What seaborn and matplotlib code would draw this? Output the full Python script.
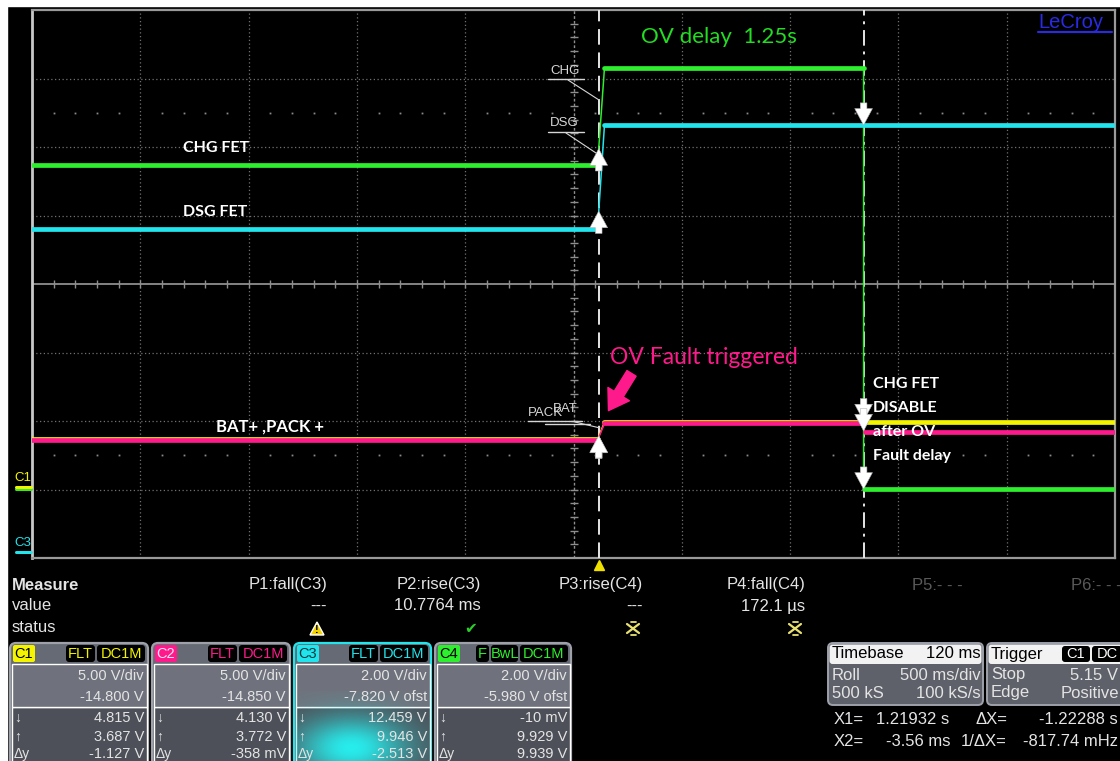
import numpy as np
import pandas as pd
import matplotlib
matplotlib.use("Agg")
import matplotlib.pyplot as plt
from matplotlib.patches import FancyBboxPatch, Rectangle, Polygon, FancyArrowPatch
from matplotlib.transforms import blended_transform_factory
import seaborn as sns

sns.set_theme(style="white")
plt.rcParams["font.family"] = ["Liberation Sans", "DejaVu Sans"]
UI_FONT = ["Liberation Sans", "DejaVu Sans"]
NOTE_FONT = ["Lato", "DejaVu Sans"]

# ---------------- acquisition settings ----------------
TIME_PER_DIV = 0.5          # s/div (roll mode)
N_XDIV = 10
N_YDIV = 8
TRIG_DELAY = 0.120          # s
CURSOR_X1 = 1.21932         # s
CURSOR_X2 = -0.00356        # s

CHANNELS = ["C1", "C2", "C3", "C4"]
CH_COLORS = ["#f4f400", "#ff1a8c", "#22e4ec", "#2def2d"]
VOLTS_PER_DIV = [5.00, 5.00, 2.00, 2.00]
OFFSETS = [-14.800, -14.850, -7.820, -5.980]
AT_X1 = [4.815, 4.130, 12.459, -0.010]     # channel value at cursor X1
AT_X2 = [3.687, 3.772, 9.946, 9.929]       # channel value at cursor X2
DELTA_Y = ["-1.127 V", "-358 mV", "-2.513 V", "9.939 V"]

# ---------------- waveform breakpoints (s, V) ----------------
C1_T = [-2.62, -0.009, 0.023, 2.38]
C1_V = [3.47, 3.47, 4.71, 4.71]
C2_T = [-2.62, -0.009, 0.023, 1.2193, 1.2240, 2.38]
C2_V = [3.44, 3.44, 4.67, 4.67, 4.05, 4.05]
C3_T = [-2.62, -0.009, 0.023, 2.38]
C3_V = [9.42, 9.42, 12.46, 12.46]
C4_T = [-2.62, -0.009, 0.023, 1.2193, 1.2194, 2.38]
C4_V = [9.45, 9.45, 12.29, 12.29, 0.0, 0.0]
TRACES = {"C1": (C1_T, C1_V), "C2": (C2_T, C2_V), "C3": (C3_T, C3_V), "C4": (C4_T, C4_V)}

# ---------------- measurement panel ----------------
MEAS_NAMES = ["P1:fall(C3)", "P2:rise(C3)", "P3:rise(C4)", "P4:fall(C4)"]
MEAS_VALUES = ["---", "10.7764 ms", "---", "172.1 µs"]
MEAS_STATUS = ["warn", "ok", "nodata", "nodata"]
CH_TAGS = [["FLT", "DC1M"], ["FLT", "DC1M"], ["FLT", "DC1M"], ["F", "BwL", "DC1M"]]
TAG_WIDTH = {"F": 13, "BwL": 27, "FLT": 29, "DC1M": 48}


def to_div(v, ch):
    i = CHANNELS.index(ch)
    return (v + OFFSETS[i]) / VOLTS_PER_DIV[i]


rows = []
for ch in CHANNELS:
    t, v = TRACES[ch]
    for i in range(len(t) - 1):
        kind = "flat" if v[i] == v[i + 1] else "edge"
        for j in (i, i + 1):
            rows.append(dict(ch=ch, seg=f"{ch}-{i}", kind=kind, t=t[j], div=to_div(v[j], ch)))
df = pd.DataFrame(rows)

W, H = 1120, 761
PL, PT, PR, PB = 32, 10, 1115, 558

fig = plt.figure(figsize=(W / 100, H / 100), dpi=100, facecolor="black")
ax = fig.add_axes([PL / W, 1 - PB / H, (PR - PL) / W, (PB - PT) / H])
ax.set_facecolor("black")

t_center = -TRIG_DELAY
t0 = t_center - N_XDIV / 2 * TIME_PER_DIV
t1 = t_center + N_XDIV / 2 * TIME_PER_DIV
ax.set_xlim(t0, t1)
ax.set_ylim(-N_YDIV / 2, N_YDIV / 2)

# graticule
grid_kw = dict(color="#707070", lw=0.9, ls=(0, (1, 2)), zorder=1)
for k in range(1, N_XDIV):
    x = t0 + k * TIME_PER_DIV
    if k == N_XDIV // 2:
        ax.axvline(x, color="#8e8e8e", lw=1.0, ls=(0, (2, 1.5)), zorder=1)
    else:
        ax.axvline(x, **grid_kw)
for j in range(-N_YDIV // 2 + 1, N_YDIV // 2):
    if j == 0:
        ax.axhline(0, color="#8e8e8e", lw=1.3, zorder=1)
    else:
        ax.axhline(j, **grid_kw)
sub_idx = np.arange(1, N_XDIV * 5)
minor_t = t0 + sub_idx * TIME_PER_DIV / 5
ax.plot(minor_t, np.zeros_like(minor_t), ls="none", marker="|", ms=6, mew=1.0, color="#8e8e8e", zorder=1)
minor_y = np.arange(-N_YDIV * 5 // 2 + 1, N_YDIV * 5 // 2) / 5
ax.plot(np.full_like(minor_y, t_center), minor_y, ls="none", marker="_", ms=6, mew=1.0, color="#8e8e8e", zorder=1)
dots_t = minor_t[sub_idx % 5 != 0]
for yy in (2.5, -2.5):
    ax.plot(dots_t, np.full_like(dots_t, yy), ls="none", marker="s", ms=1.3, mew=0, color="#8a8a8a", zorder=1)

for side, col, lw in (("left", "#c8c8c8", 2.0), ("top", "#9a9a9a", 1.6),
                      ("right", "#9a9a9a", 1.6), ("bottom", "#9a9a9a", 1.6)):
    ax.spines[side].set_color(col)
    ax.spines[side].set_linewidth(lw)
    ax.spines[side].set_visible(True)
ax.set_xticks([])
ax.set_yticks([])

# cursors
ax.axvline(CURSOR_X2, color="#e6e6e6", lw=1.4, ls=(0, (8, 4)), zorder=3)
ax.axvline(CURSOR_X1, color="#e6e6e6", lw=1.4, ls=(0, (8, 3, 1.5, 3)), zorder=3)

# traces
palette = dict(zip(CHANNELS, CH_COLORS))
for kind, lw in (("edge", 1.1), ("flat", 3.4)):
    sns.lineplot(data=df[df.kind == kind], x="t", y="div", hue="ch", units="seg",
                 estimator=None, palette=palette, hue_order=CHANNELS, lw=lw,
                 legend=False, sort=False, ax=ax, zorder=4)
ax.set_xlabel("")
ax.set_ylabel("")

# cursor arrows at each channel value
arrow_style = "simple,head_length=0.7,head_width=0.75,tail_width=0.28"
for ch, v2, v1 in zip(CHANNELS, AT_X2, AT_X1):
    for tc, v, d in ((CURSOR_X2, v2, 1), (CURSOR_X1, v1, -1)):
        ax.annotate("", xy=(tc, to_div(v, ch)), xytext=(0, -16 * d), textcoords="offset points",
                    arrowprops=dict(arrowstyle=arrow_style, fc="white", ec="#b0b0b0", lw=0.4,
                                    mutation_scale=17, shrinkA=0, shrinkB=0), zorder=6)

# trigger position marker
ax.plot([0.0], [-N_YDIV / 2 - 0.1], marker="^", color="#f0e000", ms=7, clip_on=False, zorder=6)

# channel ground markers on the left edge
btr = blended_transform_factory(ax.transAxes, ax.transData)
fx = lambda px: (px - PL) / (PR - PL)
for ch, col in (("C4", CH_COLORS[3]), ("C1", CH_COLORS[0]), ("C3", CH_COLORS[2])):
    z = to_div(0.0, ch)
    ax.plot([fx(16), fx(31)], [z, z], color=col, lw=2.2, transform=btr, clip_on=False, zorder=6)
    if ch != "C4":
        ax.text(fx(23), z + 0.04, ch, transform=btr, color=col, fontsize=9.5, ha="center", va="bottom",
                clip_on=False)

# ---------------- overlay in pixel coordinates ----------------
ov = fig.add_axes([0, 0, 1, 1], zorder=10)
ov.set_xlim(0, W)
ov.set_ylim(H, 0)
ov.axis("off")
ov.patch.set_alpha(0)


def txt(x, y, s, size=10, color="#e8e8e8", ha="left", va="center", weight="normal", family=None,
        zorder=6, **kw):
    ov.text(x, y, s, fontsize=size, color=color, ha=ha, va=va, fontweight=weight,
            family=family or UI_FONT, zorder=zorder, **kw)


def rbox(x0, y0, x1, y1, fc, ec="none", lw=0.0, r=4, z=2):
    ov.add_patch(FancyBboxPatch((x0 + r, y0 + r), (x1 - x0) - 2 * r, (y1 - y0) - 2 * r,
                                boxstyle=f"round,pad={r}", fc=fc, ec=ec, lw=lw, zorder=z))


# white frame strips
ov.add_patch(Rectangle((0, 0), W, 5.5, color="white", zorder=20))
ov.add_patch(Rectangle((0, 0), 7, H, color="white", zorder=20))

# annotations on the traces
txt(641, 37, "OV delay  1.25s", size=16, color="#22dd22", family=NOTE_FONT)
txt(183, 148, "CHG FET", size=11.5, color="white", weight="bold", family=NOTE_FONT)
txt(183, 212, "DSG FET", size=11.5, color="white", weight="bold", family=NOTE_FONT)
txt(216, 427, "BAT+ ,PACK +", size=12, color="white", weight="bold", family=NOTE_FONT)
txt(610, 358, "OV Fault triggered", size=16.5, color="#ff1a8c", family=NOTE_FONT)
for k, line in enumerate(["CHG FET", "DISABLE", "after OV", "Fault delay"]):
    txt(873, 384 + 24 * k, line, size=11.5, color="white", weight="bold", family=NOTE_FONT)
ov.add_patch(FancyArrowPatch((633, 371), (607, 413),
                             arrowstyle="simple,head_length=1.0,head_width=1.3,tail_width=0.55",
                             mutation_scale=14, color="#ff1a8c", zorder=5))
txt(1038, 22, "LeCroy", size=14.5, color="#2a2ae6")
ov.plot([1038, 1112], [32, 32], color="#2a2ae6", lw=1.5)

# trace labels with leader lines
lab_col = "#d6d6d6"
txt(550, 71, "CHG", size=9.5, color=lab_col)
ov.plot([548, 584], [79, 79], color=lab_col, lw=1.0)
ov.plot([568, 599], [80, 100], color=lab_col, lw=0.8)
txt(550, 123, "DSG", size=9.5, color=lab_col)
ov.plot([548, 584], [132, 132], color=lab_col, lw=1.0)
ov.plot([566, 596], [133, 153], color=lab_col, lw=0.8)
txt(528, 413, "PACK", size=9.5, color=lab_col)
txt(553, 409, "BAT", size=9.5, color=lab_col)
ov.plot([528, 582], [421, 421], color=lab_col, lw=1.0)
ov.plot([545, 590], [424, 424], color=lab_col, lw=1.0)
ov.plot([575, 600], [422, 428], color=lab_col, lw=0.8)

# ---------------- measurement table ----------------
PANEL_TXT = "#e4e4e4"
MS = 12
txt(12, 585, "Measure", size=MS, weight="bold", color=PANEL_TXT)
txt(12, 606, "value", size=MS, color=PANEL_TXT)
txt(12, 628, "status", size=MS, color=PANEL_TXT)
col_right = [327, 481, 643, 805]
for xr, name, val, st in zip(col_right, MEAS_NAMES, MEAS_VALUES, MEAS_STATUS):
    txt(xr, 585, name, size=MS, ha="right", color=PANEL_TXT)
    txt(xr, 606, val, size=MS, ha="right", color=PANEL_TXT)
    xi = xr - 10
    if st == "warn":
        ov.add_patch(Polygon([[xi - 7, 635], [xi + 7, 635], [xi, 622]], closed=True, fc="#f2d200", zorder=3))
        txt(xi, 630, "!", size=8, color="black", ha="center", weight="bold")
    elif st == "ok":
        txt(xi, 628, "✔", size=11, color="#2ad02a", ha="center", family=["DejaVu Sans"])
    else:
        yc = "#e8e070"
        ov.plot([xi - 2.5, xi + 2.5], [622, 622], color=yc, lw=1.3)
        ov.plot([xi - 2.5, xi + 2.5], [635, 635], color=yc, lw=1.3)
        ov.plot([xi - 6, xi + 6], [624, 633], color=yc, lw=1.6)
        ov.plot([xi - 6, xi + 6], [633, 624], color=yc, lw=1.6)
txt(963, 585, "P5:- - -", size=MS, ha="right", color="#5a5a5a")
txt(1071, 585, "P6:- - -", size=MS, color="#5a5a5a")

# ---------------- channel descriptor boxes ----------------
box_x = [(10, 148), (152, 290), (294, 431), (435, 571)]
label_text_col = ["black", "#ffe0f0", "#003a40", "black"]
for i, (x0, x1) in enumerate(box_x):
    col = CH_COLORS[i]
    ec = col if i == 2 else "#9ea1a9"
    rbox(x0, 643, x1, 790, fc="#666a74", ec=ec, lw=1.6, r=6, z=2)
    ov.add_patch(Rectangle((x0 + 1.5, 707), x1 - x0 - 3, 60, fc="#4d5058", zorder=2.1))
    ov.add_patch(Rectangle((x0 + 1.5, 664), x1 - x0 - 3, 43, fc="#6f727c", zorder=2.1))
    rbox(x0 + 3, 645, x0 + 25, 662, fc=col, r=2, z=3)
    txt(x0 + 14, 654, CHANNELS[i], size=10.5, color=label_text_col[i], ha="center")
    xr = x1 - 3
    for tg in reversed(CH_TAGS[i]):
        wd = TAG_WIDTH[tg]
        rbox(xr - wd, 645, xr, 662, fc="black", r=3, z=3)
        txt(xr - wd / 2, 654, tg, size=10.5, color=col, ha="center")
        xr -= wd + 2
    vr = x1 - 4
    txt(vr, 676, f"{VOLTS_PER_DIV[i]:.2f} V/div", size=10.5, ha="right", color=PANEL_TXT)
    ofs = f"{OFFSETS[i]:.3f} V" if i < 2 else f"{OFFSETS[i]:.3f} V ofst"
    txt(vr, 697, ofs, size=10.5, ha="right", color=PANEL_TXT)
    down = f"{AT_X1[i]:.3f} V" if abs(AT_X1[i]) >= 1 else f"{AT_X1[i] * 1000:.0f} mV"
    txt(vr, 718, down, size=10.5, ha="right", color=PANEL_TXT)
    txt(vr, 737, f"{AT_X2[i]:.3f} V", size=10.5, ha="right", color=PANEL_TXT)
    txt(vr, 754, DELTA_Y[i], size=10.5, ha="right", color=PANEL_TXT)
    txt(x0 + 4, 718, "↓", size=10, color=PANEL_TXT)
    txt(x0 + 4, 737, "↑", size=10, color=PANEL_TXT)
    txt(x0 + 4, 754, "Δy", size=10, color=PANEL_TXT)

# glow on the selected channel box
gy, gx = np.mgrid[0:70, 0:134]
r2 = ((gx - 55) / 58.0) ** 2 + ((gy - 56) / 32.0) ** 2
glow = np.zeros((70, 134, 4))
glow[..., 0], glow[..., 1], glow[..., 2] = 0.15, 0.95, 0.95
glow[..., 3] = 0.97 * np.exp(-1.1 * r2)
ov.imshow(glow, extent=(296, 430, 761, 691), aspect="auto", zorder=4, interpolation="bilinear")
ov.set_xlim(0, W)
ov.set_ylim(H, 0)

# ---------------- timebase / trigger ----------------
TS = 12
rbox(828, 643, 983, 705, fc="#5e616a", ec="#9ea1a9", lw=1.4, r=5, z=2)
rbox(829.5, 644.5, 981.5, 664, fc="#f2f2f2", r=3, z=3)
txt(832, 654, "Timebase", size=TS, color="black")
txt(981, 654, "120 ms", size=TS, color="black", ha="right")
txt(832, 675, "Roll", size=TS, color=PANEL_TXT)
txt(981, 675, "500 ms/div", size=TS, color=PANEL_TXT, ha="right")
txt(832, 693, "500 kS", size=TS, color=PANEL_TXT)
txt(981, 693, "100 kS/s", size=TS, color=PANEL_TXT, ha="right")

rbox(987, 643, 1135, 705, fc="#5e616a", ec="#9ea1a9", lw=1.4, r=5, z=2)
rbox(988.5, 644.5, 1133, 664, fc="#f2f2f2", r=3, z=3)
txt(991, 654, "Trigger", size=TS, color="black")
rbox(1062, 646, 1090, 662, fc="black", r=3, z=4)
txt(1076, 654, "C1", size=10.5, color="white", ha="center", zorder=7)
rbox(1092, 646, 1122, 662, fc="black", r=3, z=4)
txt(1107, 654, "DC", size=10.5, color="white", ha="center", zorder=7)
txt(991, 675, "Stop", size=TS, color=PANEL_TXT)
txt(1118, 675, "5.15 V", size=TS, color=PANEL_TXT, ha="right")
txt(991, 693, "Edge", size=TS, color=PANEL_TXT)
txt(1119, 693, "Positive", size=TS, color=PANEL_TXT, ha="right")

# cursor readout
txt(834, 720, "X1=", size=TS, color=PANEL_TXT)
txt(949, 720, f"{CURSOR_X1:.5f} s", size=TS, color=PANEL_TXT, ha="right")
txt(1007, 720, "ΔX=", size=TS, color=PANEL_TXT, ha="right")
txt(1118, 720, f"{CURSOR_X2 - CURSOR_X1:.5f} s", size=TS, color=PANEL_TXT, ha="right")
txt(834, 742, "X2=", size=TS, color=PANEL_TXT)
txt(951, 742, f"{CURSOR_X2 * 1000:.2f} ms", size=TS, color=PANEL_TXT, ha="right")
txt(1007, 742, "1/ΔX=", size=TS, color=PANEL_TXT, ha="right")
txt(1118, 742, f"{1000 / (CURSOR_X2 - CURSOR_X1):.2f} mHz", size=TS, color=PANEL_TXT, ha="right")

fig.savefig("out.png", dpi=100, facecolor="black")
